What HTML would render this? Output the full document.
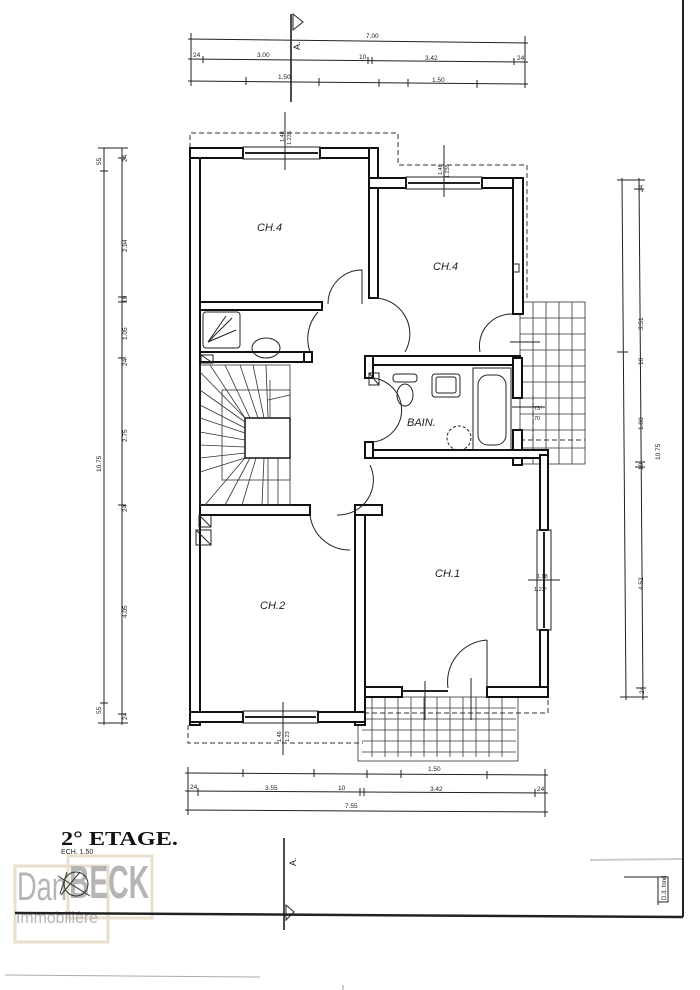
<!DOCTYPE html>
<html><head><meta charset="utf-8"><style>
html,body{margin:0;padding:0;background:#fff;}
svg{display:block;}
text{font-family:"Liberation Sans",sans-serif;fill:#222;}
.w{fill:#fff;stroke:#111;stroke-width:2;}
.d{stroke:#222;stroke-width:1;fill:none;}
.t{stroke:#333;stroke-width:0.8;fill:none;}
.ds{stroke:#333;stroke-width:1;fill:none;stroke-dasharray:5,3;}
</style></head><body>
<svg width="700" height="990" viewBox="0 0 700 990" xmlns="http://www.w3.org/2000/svg">
<!-- logo boxes (behind) -->
<rect x="15" y="866" width="93" height="76" fill="none" stroke="#eadfcc" stroke-width="3"/>
<rect x="68" y="856" width="84" height="62" fill="none" stroke="#eadfcc" stroke-width="3"/>
<text x="17" y="900" textLength="50" lengthAdjust="spacingAndGlyphs" style="font-family:'Liberation Sans Narrow','Liberation Sans',sans-serif;font-size:40px;fill:#b5b5b5">Dan</text>
<text x="69" y="898" textLength="80" lengthAdjust="spacingAndGlyphs" style="font-family:'Liberation Sans Narrow','Liberation Sans',sans-serif;font-size:46px;font-weight:bold;fill:#b5b5b5">BECK</text>
<text x="16" y="923" textLength="82" lengthAdjust="spacingAndGlyphs" style="font-size:17px;fill:#b5b5b5">Immobilière</text>

<!-- frame -->
<line x1="683" y1="0" x2="683" y2="917" stroke="#222" stroke-width="2"/>
<line x1="15" y1="913" x2="683" y2="917" stroke="#222" stroke-width="2.5"/>
<line x1="5" y1="975" x2="260" y2="977" stroke="#aaa" stroke-width="1"/>
<line x1="343" y1="985" x2="343" y2="1020" stroke="#999"/>
<line x1="590" y1="860" x2="682" y2="859" stroke="#ccc" stroke-width="2"/>

<!-- section mark top -->
<line x1="291" y1="14" x2="291" y2="102" stroke="#111" stroke-width="1.5"/>
<polygon points="293,14 303,22 293,30" class="d"/>
<text x="300" y="50" font-size="9" transform="rotate(-90 300 50)">A.</text>
<!-- top dims -->
<g class="d">
<line x1="188" y1="39" x2="528" y2="43"/><line x1="188" y1="59" x2="528" y2="62"/><line x1="188" y1="81" x2="528" y2="84"/>
<line x1="191" y1="33" x2="191" y2="86"/><line x1="525" y1="36" x2="525" y2="88"/>
<line x1="203" y1="56" x2="203" y2="63"/><line x1="368" y1="57" x2="368" y2="64"/><line x1="372" y1="57" x2="372" y2="64"/><line x1="514" y1="58" x2="514" y2="65"/>
<line x1="246" y1="77" x2="246" y2="85"/><line x1="319" y1="78" x2="319" y2="86"/><line x1="379" y1="79" x2="379" y2="87"/><line x1="408" y1="79" x2="408" y2="87"/><line x1="477" y1="80" x2="477" y2="88"/>
</g>
<g font-size="6.5"><text x="366" y="38">7.00</text><text x="257" y="57">3.00</text><text x="425" y="60">3.42</text><text x="193" y="57">24</text><text x="517" y="60">24</text><text x="359" y="59">10</text><text x="278" y="79">1.50</text><text x="432" y="82">1.50</text></g>

<!-- left dims -->
<g class="d">
<line x1="104" y1="148" x2="104" y2="725"/><line x1="122" y1="148" x2="122" y2="725"/>
<line x1="98" y1="148" x2="128" y2="148"/><line x1="98" y1="723" x2="128" y2="723"/>
<line x1="100" y1="171" x2="108" y2="171"/><line x1="100" y1="703" x2="108" y2="703"/>
<line x1="118" y1="158" x2="126" y2="158"/><line x1="118" y1="297" x2="126" y2="297"/><line x1="118" y1="302" x2="126" y2="302"/><line x1="118" y1="358" x2="126" y2="358"/><line x1="118" y1="505" x2="126" y2="505"/><line x1="118" y1="714" x2="126" y2="714"/>
</g>
<g font-size="6.5">
<text x="101" y="165" transform="rotate(-90 101 165)">55</text>
<text x="101" y="714" transform="rotate(-90 101 714)">55</text>
<text x="101" y="472" transform="rotate(-90 101 472)">10.75</text>
<text x="127" y="162" transform="rotate(-90 127 162)">24</text>
<text x="127" y="252" transform="rotate(-90 127 252)">2.94</text>
<text x="127" y="303" transform="rotate(-90 127 303)">10</text>
<text x="127" y="340" transform="rotate(-90 127 340)">1.05</text>
<text x="127" y="366" transform="rotate(-90 127 366)">24</text>
<text x="127" y="442" transform="rotate(-90 127 442)">2.75</text>
<text x="127" y="512" transform="rotate(-90 127 512)">24</text>
<text x="127" y="618" transform="rotate(-90 127 618)">4.05</text>
<text x="127" y="720" transform="rotate(-90 127 720)">24</text>
</g>

<!-- right dims -->
<g class="d">
<line x1="622" y1="178" x2="626" y2="700"/><line x1="639" y1="178" x2="643" y2="700"/>
<line x1="617" y1="180" x2="645" y2="180"/><line x1="620" y1="697" x2="648" y2="697"/>
<line x1="634" y1="189" x2="644" y2="189"/><line x1="635" y1="462" x2="645" y2="462"/><line x1="635" y1="467" x2="645" y2="467"/><line x1="636" y1="688" x2="646" y2="688"/>
<line x1="617" y1="352" x2="628" y2="352"/>
</g>
<g font-size="6.5">
<text x="643" y="192" transform="rotate(-90 643 192)">24</text>
<text x="643" y="330" transform="rotate(-90 643 330)">3.51</text>
<text x="643" y="365" transform="rotate(-90 643 365)">10</text>
<text x="643" y="430" transform="rotate(-90 643 430)">1.80</text>
<text x="643" y="470" transform="rotate(-90 643 470)">10</text>
<text x="643" y="590" transform="rotate(-90 643 590)">4.52</text>
<text x="644" y="694" transform="rotate(-90 644 694)">24</text>
<text x="660" y="460" transform="rotate(-90 660 460)">10.75</text>
</g>

<!-- bottom dims -->
<g class="d">
<line x1="185" y1="773" x2="548" y2="775"/><line x1="185" y1="791" x2="548" y2="793"/><line x1="185" y1="810" x2="548" y2="812"/>
<line x1="188" y1="767" x2="188" y2="815"/><line x1="545" y1="769" x2="545" y2="817"/>
<line x1="243" y1="769" x2="243" y2="777"/><line x1="314" y1="769" x2="314" y2="777"/><line x1="367" y1="770" x2="367" y2="778"/><line x1="401" y1="770" x2="401" y2="778"/><line x1="487" y1="771" x2="487" y2="779"/>
<line x1="198" y1="788" x2="198" y2="796"/><line x1="360" y1="788" x2="360" y2="796"/><line x1="364" y1="788" x2="364" y2="796"/><line x1="535" y1="789" x2="535" y2="797"/>
</g>
<g font-size="6.5"><text x="428" y="771">1.50</text><text x="190" y="789">24</text><text x="265" y="790">3.55</text><text x="338" y="790">10</text><text x="430" y="791">3.42</text><text x="537" y="791">24</text><text x="345" y="808">7.55</text></g>

<!-- dashed outline -->
<polyline class="ds" points="190,148 190,133 398,133 398,165 527,165 527,300"/>
<polyline class="ds" points="548,700 548,713 365,713"/>
<polyline class="ds" points="188,725 188,743 363,743"/>
<line class="ds" x1="520" y1="440" x2="585" y2="440"/>
<line class="ds" x1="533" y1="395" x2="533" y2="440"/>

<!-- balcony right -->
<g class="t">
<rect x="520" y="302" width="65" height="162" />
<line x1="533" y1="302" x2="533" y2="464"/><line x1="546" y1="302" x2="546" y2="464"/><line x1="559" y1="302" x2="559" y2="464"/><line x1="572" y1="302" x2="572" y2="464"/>
<line x1="520" y1="318" x2="585" y2="318"/><line x1="520" y1="334" x2="585" y2="334"/><line x1="520" y1="350" x2="585" y2="350"/><line x1="520" y1="366" x2="585" y2="366"/><line x1="520" y1="382" x2="585" y2="382"/><line x1="520" y1="398" x2="585" y2="398"/><line x1="520" y1="414" x2="585" y2="414"/><line x1="520" y1="430" x2="585" y2="430"/><line x1="520" y1="448" x2="585" y2="448"/>
</g>
<!-- balcony bottom -->
<g class="t">
<rect x="358" y="697" width="160" height="64"/>
<line x1="372" y1="697" x2="372" y2="757"/><line x1="385" y1="697" x2="385" y2="757"/><line x1="398" y1="697" x2="398" y2="757"/><line x1="411" y1="697" x2="411" y2="757"/><line x1="424" y1="697" x2="424" y2="757"/><line x1="437" y1="697" x2="437" y2="757"/><line x1="450" y1="697" x2="450" y2="757"/><line x1="463" y1="697" x2="463" y2="757"/><line x1="476" y1="697" x2="476" y2="757"/><line x1="489" y1="697" x2="489" y2="757"/><line x1="502" y1="697" x2="502" y2="757"/>
<line x1="362" y1="708" x2="516" y2="708"/><line x1="362" y1="719" x2="516" y2="719"/><line x1="362" y1="730" x2="516" y2="730"/><line x1="362" y1="741" x2="516" y2="741"/><line x1="362" y1="752" x2="516" y2="752"/>
</g>

<!-- walls -->
<g class="w">
<rect x="190" y="148" width="10" height="577"/>
<rect x="190" y="148" width="53" height="10"/>
<rect x="320" y="148" width="58" height="10"/>
<rect x="369" y="148" width="9" height="150"/>
<rect x="369" y="178" width="37" height="10"/>
<rect x="482" y="178" width="41" height="10"/>
<rect x="513" y="178" width="10" height="136"/>
<rect x="200" y="302" width="122" height="8"/>
<rect x="200" y="352" width="112" height="10"/>
<rect x="304" y="352" width="8" height="10"/>
<rect x="365" y="356" width="155" height="9"/>
<rect x="513" y="358" width="9" height="40"/>
<rect x="513" y="430" width="9" height="35"/>
<rect x="365" y="450" width="183" height="8"/>
<rect x="365" y="356" width="8" height="22"/>
<rect x="365" y="442" width="8" height="16"/>
<rect x="540" y="455" width="8" height="75"/>
<rect x="540" y="630" width="8" height="67"/>
<rect x="487" y="687" width="61" height="10"/>
<rect x="362" y="687" width="40" height="10"/>
<rect x="355" y="505" width="10" height="220"/>
<rect x="355" y="505" width="27" height="10"/>
<rect x="200" y="505" width="110" height="10"/>
<rect x="190" y="712" width="53" height="10"/>
<rect x="318" y="712" width="47" height="10"/>
</g>
<!-- windows -->
<g class="d">
<rect x="243" y="147" width="77" height="12"/><line x1="245" y1="153" x2="318" y2="153" stroke-width="2"/>
<rect x="406" y="177" width="76" height="12"/><line x1="408" y1="183" x2="480" y2="183" stroke-width="2"/>
<rect x="243" y="711" width="75" height="12"/><line x1="245" y1="717" x2="316" y2="717" stroke-width="2"/>
<rect x="537" y="530" width="14" height="100"/><line x1="544" y1="532" x2="544" y2="628" stroke-width="2"/>
<line x1="402" y1="691" x2="448" y2="691" stroke-width="2"/>
<line x1="285" y1="112" x2="285" y2="170"/><line x1="444" y1="145" x2="444" y2="197"/>
<line x1="283" y1="702" x2="283" y2="755"/><line x1="528" y1="580" x2="560" y2="580"/>
<line x1="512" y1="407" x2="545" y2="407"/><line x1="510" y1="342" x2="540" y2="342"/>
<line x1="425" y1="681" x2="425" y2="720"/><line x1="471" y1="678" x2="471" y2="720"/>
</g>
<g font-size="5.5">
<text x="284" y="142" transform="rotate(-90 284 142)">1.48</text><text x="291" y="145" transform="rotate(-90 291 145)">1.235</text>
<text x="442" y="175" transform="rotate(-90 442 175)">1.48</text><text x="449" y="178" transform="rotate(-90 449 178)">1.235</text>
<text x="281" y="742" transform="rotate(-90 281 742)">1.48</text><text x="289" y="742" transform="rotate(-90 289 742)">1.23</text>
<text x="537" y="578">1.98</text><text x="534" y="591">1.23⁵</text>
<text x="534" y="410">73⁵</text><text x="534" y="420">70</text>
</g>

<!-- doors -->
<g class="d">
<path d="M362,304 L362,270 A34,34 0 0 0 328,304"/>
<path d="M318,312 A40,40 0 0 0 310,352"/>
<path d="M372,298 A36,36 0 0 1 405,352"/>
<path d="M512,314 A32,32 0 0 0 480,352"/>
<path d="M367,378 A30,30 0 0 1 372,442"/>
<path d="M370,465 A35,35 0 0 1 337,515"/>
<path d="M310,515 A40,40 0 0 0 350,550"/>
<path d="M487,640 L487,688 M487,640 A42,42 0 0 0 448,688"/>
</g>

<!-- fixtures -->
<g class="d">
<rect x="203" y="312" width="37" height="36" rx="3"/>
<line x1="208" y1="342" x2="232" y2="318"/><line x1="208" y1="342" x2="226" y2="316"/><line x1="208" y1="342" x2="236" y2="330"/>
<ellipse cx="266" cy="348" rx="14" ry="10"/>
<rect x="201" y="355" width="12" height="8"/><line x1="201" y1="355" x2="213" y2="363"/>
<rect x="369" y="373" width="10" height="12"/><line x1="369" y1="373" x2="379" y2="385"/>
<rect x="393" y="374" width="24" height="8" rx="3"/><ellipse cx="405" cy="395" rx="8" ry="11"/>
<rect x="432" y="374" width="28" height="23" rx="3"/><rect x="436" y="377" width="20" height="16" rx="2"/>
<rect x="473" y="368" width="38" height="82"/><rect x="478" y="375" width="28" height="70" rx="10"/>
<circle cx="459" cy="438" r="12" stroke-dasharray="3,2"/>
<rect x="199" y="515" width="12" height="12"/><line x1="199" y1="515" x2="211" y2="527"/>
<rect x="196" y="530" width="15" height="15"/><line x1="196" y1="530" x2="211" y2="545"/>
<rect x="513" y="264" width="6" height="8"/>
</g>

<!-- stairs -->
<g class="t">
<rect x="200" y="365" width="90" height="140"/>
<rect x="245" y="418" width="45" height="40" stroke="#111" stroke-width="1.5"/>
<rect x="222" y="390" width="68" height="90"/>
<line x1="200" y1="372" x2="245" y2="418"/><line x1="210" y1="365" x2="245" y2="418"/><line x1="225" y1="365" x2="250" y2="418"/><line x1="240" y1="365" x2="258" y2="418"/><line x1="253" y1="365" x2="264" y2="418"/><line x1="266" y1="365" x2="268" y2="418"/>
<line x1="200" y1="390" x2="245" y2="422"/><line x1="200" y1="405" x2="245" y2="428"/><line x1="200" y1="418" x2="245" y2="433"/><line x1="200" y1="432" x2="245" y2="440"/><line x1="200" y1="445" x2="245" y2="447"/><line x1="200" y1="458" x2="245" y2="453"/><line x1="200" y1="472" x2="245" y2="458"/>
<line x1="205" y1="505" x2="245" y2="458"/><line x1="225" y1="505" x2="250" y2="458"/><line x1="242" y1="505" x2="256" y2="458"/><line x1="262" y1="505" x2="264" y2="458"/>
<line x1="268" y1="458" x2="268" y2="505"/><line x1="278" y1="458" x2="278" y2="505"/><line x1="270" y1="380" x2="270" y2="418"/>
<line x1="268" y1="400" x2="290" y2="395"/>
</g>

<!-- room labels -->
<g font-size="11" font-style="italic">
<text x="257" y="231">CH.4</text><text x="433" y="270">CH.4</text>
<text x="407" y="426">BAIN.</text><text x="435" y="577">CH.1</text><text x="260" y="609">CH.2</text>
</g>

<!-- title -->
<text x="61" y="845" textLength="117" lengthAdjust="spacingAndGlyphs" style="font-family:'Liberation Serif',serif;font-size:20px;font-weight:bold;fill:#111">2° ETAGE.</text>
<text x="61" y="854" style="font-size:7px">ECH. 1.50</text>

<!-- section mark bottom -->
<line x1="284" y1="838" x2="284" y2="930" stroke="#111" stroke-width="1.5"/>
<polygon points="286,905 294,912 286,920" class="d"/>
<text x="296" y="866" font-size="9" transform="rotate(-90 296 866)">A.</text>

<!-- compass -->
<circle cx="76" cy="884" r="12" fill="none" stroke="#333"/>
<line x1="61" y1="895" x2="80" y2="872" stroke="#333"/><line x1="58" y1="876" x2="90" y2="896" stroke="#333"/>
<line x1="60" y1="894" x2="67" y2="872" stroke="#333"/>

<!-- signature box -->
<polyline points="624,877 658,877 658,905" class="d"/>
<rect x="658" y="877" width="10" height="25" class="d"/>
<text x="666" y="900" font-size="6" transform="rotate(-90 666 900)">D.3. fond</text>
</svg>
</body></html>
